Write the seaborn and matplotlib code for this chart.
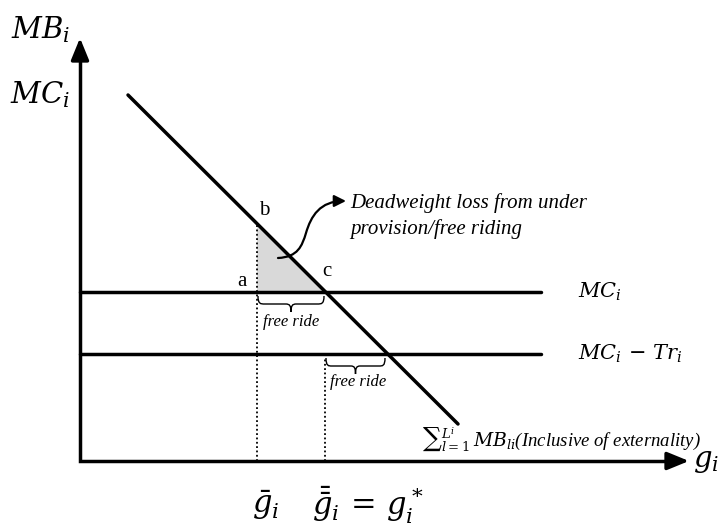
import numpy as np
import pandas as pd
import matplotlib
matplotlib.use("Agg")
import matplotlib.pyplot as plt
from matplotlib.path import Path
from matplotlib.patches import PathPatch, FancyArrowPatch, Polygon
import seaborn as sns

# ---- model values (g on the horizontal axis, money on the vertical axis) ----
demand_g = [4.8, 37.8]          # end points of the summed marginal-benefit line
demand_mb = [36.6, 3.7]
mc_level = 16.9                 # MC_i
mc_tr_level = 10.7              # MC_i - Tr_i
line_end = 46.1                 # where the cost lines stop
g_bar = 17.7                    # private provision
g_star = 24.5                   # socially optimal provision
g_tr = 30.6                     # provision under the transfer
x_axis_end = 60.9
y_axis_end = 42.3

sns.set_theme(style="white")
plt.rcParams["mathtext.fontset"] = "dejavuserif"
plt.rcParams["font.family"] = ["Liberation Serif", "DejaVu Serif"]
plt.rcParams["text.color"] = "black"

fig = plt.figure(figsize=(7.2, 5.32), dpi=100)
ax = fig.add_axes([0, 0, 1, 1])
ax.set_xlim(-8, 64)
ax.set_ylim(-7.1, 46.1)
ax.axis("off")


def mb_at(g):
    return float(np.interp(g, demand_g, demand_mb))


mb_bar = mb_at(g_bar)

# deadweight-loss triangle
ax.add_patch(Polygon([(g_bar, mb_bar), (g_bar, mc_level), (g_star, mc_level)],
                     closed=True, facecolor="#d9d9d9", edgecolor="none", zorder=1))

# benefit and cost lines
lines = pd.DataFrame({
    "g": demand_g + [0, line_end] + [0, line_end],
    "v": demand_mb + [mc_level, mc_level] + [mc_tr_level, mc_tr_level],
    "curve": ["MB"] * 2 + ["MC"] * 2 + ["MCTr"] * 2,
})
sns.lineplot(data=lines, x="g", y="v", hue="curve", units="curve", estimator=None,
             palette=["black"] * 3, linewidth=2.5, legend=False, ax=ax, zorder=3)

# dotted drop lines
ax.plot([g_bar, g_bar], [0, mb_bar], color="black", lw=1.3, ls=(0, (1, 1.4)), zorder=2)
ax.plot([g_star, g_star], [0, mc_tr_level - 0.3], color="black", lw=1.3,
        ls=(0, (1, 1.4)), zorder=2)

# axes with arrow heads
ax.plot([0, 0, x_axis_end - 1.0], [y_axis_end - 1.0, 0, 0], color="black", lw=2.5,
        solid_joinstyle="miter", zorder=4)
ax.annotate("", xy=(0, y_axis_end), xytext=(0, y_axis_end - 1.5),
            arrowprops=dict(arrowstyle="-|>,head_length=1.1,head_width=0.45",
                            color="black", lw=2.5, shrinkA=0, shrinkB=0), zorder=4)
ax.annotate("", xy=(x_axis_end, 0), xytext=(x_axis_end - 1.5, 0),
            arrowprops=dict(arrowstyle="-|>,head_length=1.1,head_width=0.45",
                            color="black", lw=2.5, shrinkA=0, shrinkB=0), zorder=4)


# curly braces under the free-ride gaps
def brace(x0, x1, y, h):
    w = x1 - x0
    xm = (x0 + x1) / 2
    verts = [
        (x0, y), (x0, y - 0.5 * h), (x0 + 0.04 * w, y - 0.5 * h), (x0 + 0.1 * w, y - 0.5 * h),
        (xm - 0.08 * w, y - 0.5 * h),
        (xm - 0.02 * w, y - 0.5 * h), (xm, y - 0.6 * h), (xm, y - h),
        (xm, y - 0.6 * h), (xm + 0.02 * w, y - 0.5 * h), (xm + 0.08 * w, y - 0.5 * h),
        (x1 - 0.1 * w, y - 0.5 * h),
        (x1 - 0.04 * w, y - 0.5 * h), (x1, y - 0.5 * h), (x1, y),
    ]
    codes = [Path.MOVETO] + [Path.CURVE4] * 3 + [Path.LINETO] + [Path.CURVE4] * 6 + \
            [Path.LINETO] + [Path.CURVE4] * 3
    ax.add_patch(PathPatch(Path(verts, codes), fill=False, lw=1.0, color="black"))


brace(g_bar + 0.1, g_star - 0.1, mc_level - 0.4, 1.6)
brace(g_star + 0.1, g_tr - 0.1, mc_tr_level - 0.4, 1.6)
ax.text((g_bar + g_star) / 2, mc_level - 3.0, "free ride", fontsize=12, style="italic",
        ha="center", va="center")
ax.text((g_star + g_tr) / 2 + 0.3, mc_tr_level - 2.8, "free ride", fontsize=12,
        style="italic", ha="center", va="center")

# point labels
ax.text(g_bar - 1.5, mc_level + 1.0, "a", fontsize=15, ha="center", va="center")
ax.text(g_bar + 0.7, mb_bar + 1.3, "b", fontsize=15, ha="center", va="center")
ax.text(g_star + 0.2, mc_level + 2.0, "c", fontsize=15, ha="center", va="center")

# curved pointer to the deadweight-loss note
p = Path([(19.8, 20.3), (21.8, 20.4), (22.2, 21.5), (22.6, 22.8),
          (23.1, 24.5), (24.0, 26.0), (26.6, 26.0)],
         [Path.MOVETO] + [Path.CURVE4] * 6)
ax.add_patch(FancyArrowPatch(path=p, arrowstyle="-|>,head_length=0.5,head_width=0.25",
                             mutation_scale=14, lw=1.6, color="black"))
ax.text(27.0, 25.8, "Deadweight loss from under", fontsize=15, style="italic", va="center")
ax.text(27.0, 23.2, "provision/free riding", fontsize=15, style="italic", va="center")

# curve labels
ax.text(49.8, mc_level, r"$MC_i$", fontsize=15, va="center")
ax.text(49.8, mc_tr_level, r"$MC_i\,-\,Tr_i$", fontsize=15, va="center")
ax.text(34.2, 2.2, r"${\sum}_{l=1}^{L^i}\,MB_{li}$(Inclusive of externality)",
        fontsize=13.5, style="italic", va="center")

# axis titles
ax.text(-3.9, 43.1, r"$MB_i$", fontsize=21, ha="center", va="center")
ax.text(-4.0, 36.6, r"$MC_i$", fontsize=21, ha="center", va="center")
ax.text(x_axis_end + 0.4, -0.1, r"$g_i$", fontsize=21, ha="left", va="center")
ax.text(g_bar + 0.9, -4.4, r"$\bar{g}_i$", fontsize=22, ha="center", va="center")
ax.text(g_star - 1.3, -4.4, r"$\bar{\bar{g}}_i\,=\,g_i^*$", fontsize=22, ha="left",
        va="center")

fig.savefig("out.png", dpi=100)
